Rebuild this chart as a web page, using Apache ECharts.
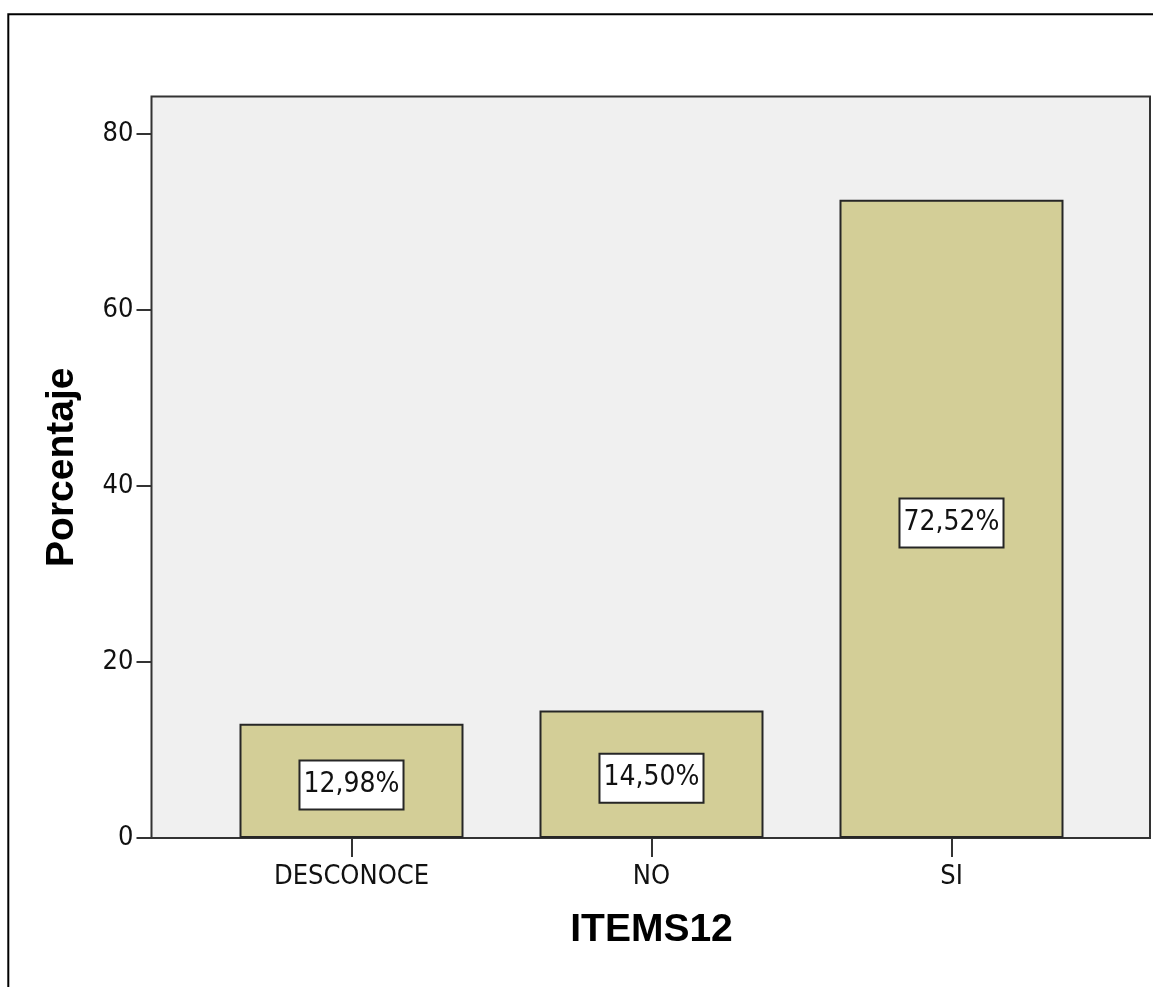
<!DOCTYPE html>
<html>
<head>
<meta charset="utf-8">
<script src="https://cdn.jsdelivr.net/npm/echarts@6/dist/echarts.min.js"></script>
<style>
html,body{margin:0;padding:0;background:#fff;}
#c{width:1153px;height:987px;}
</style>
</head>
<body>
<div id="c"></div>
<script>
var categories = ['DESCONOCE', 'NO', 'SI'];
var percentValues = [12.98, 14.50, 72.52];
var percentLabels = ['12,98%', '14,50%', '72,52%'];
var yTickValues = [0, 20, 40, 60, 80];

var narrow = "'DejaVu Sans Condensed', 'Liberation Sans Narrow', 'Liberation Sans', Arial, sans-serif";
var sans = "'Liberation Sans', Arial, sans-serif";

var chart = echarts.init(document.getElementById('c'));
chart.setOption({
  animation: false,
  backgroundColor: '#ffffff',
  graphic: [{
    type: 'rect',
    shape: { x: 8.3, y: 14.3, width: 1200, height: 1100 },
    style: { fill: 'none', stroke: '#000', lineWidth: 2 },
    silent: true
  }],
  grid: [
    { left: 151.5, top: 96.5, right: 3, bottom: 149, show: true,
      backgroundColor: '#f0f0f0', borderColor: '#333333', borderWidth: 2 },
    { left: 201.5, top: 96.5, right: 51.5, bottom: 149 }
  ],
  xAxis: [
    { gridIndex: 0, type: 'value', show: false, min: 0, max: 1 },
    {
      gridIndex: 1, type: 'category', data: categories,
      axisLine: { show: false },
      axisTick: { show: true, alignWithLabel: true, length: 19, lineStyle: { color: '#333333', width: 2 } },
      axisLabel: { color: '#111', fontFamily: narrow, fontSize: 27, margin: 25 },
      name: 'ITEMS12', nameLocation: 'middle', nameGap: 73,
      nameTextStyle: { color: '#000', fontFamily: sans, fontWeight: 'bold', fontSize: 39 }
    }
  ],
  yAxis: [
    { gridIndex: 0, type: 'value', show: false, min: 0, max: 1 },
    {
      gridIndex: 1, type: 'value', min: 0, max: 84.26, interval: 20, offset: 50,
      axisLine: { show: false },
      splitLine: { show: false },
      axisTick: { show: true, length: 15, customValues: yTickValues, lineStyle: { color: '#333333', width: 2 } },
      axisLabel: { color: '#111', fontFamily: narrow, fontSize: 27, margin: 18, customValues: yTickValues },
      name: 'Porcentaje', nameLocation: 'middle', nameGap: 70,
      nameTextStyle: { color: '#000', fontFamily: sans, fontWeight: 'bold', fontSize: 39 }
    }
  ],
  series: [{
    type: 'bar',
    xAxisIndex: 1, yAxisIndex: 1,
    data: percentValues,
    barWidth: 224,
    itemStyle: { color: '#d3ce97', borderColor: '#262626', borderWidth: 2 },
    label: {
      show: true, position: 'inside', offset: [0, 4],
      formatter: function (p) { return percentLabels[p.dataIndex]; },
      color: '#111', fontFamily: narrow, fontSize: 28, lineHeight: 31,
      backgroundColor: '#ffffff', borderColor: '#262626', borderWidth: 2,
      padding: [8, 3, 8, 3]
    }
  }]
});
</script>
</body>
</html>
